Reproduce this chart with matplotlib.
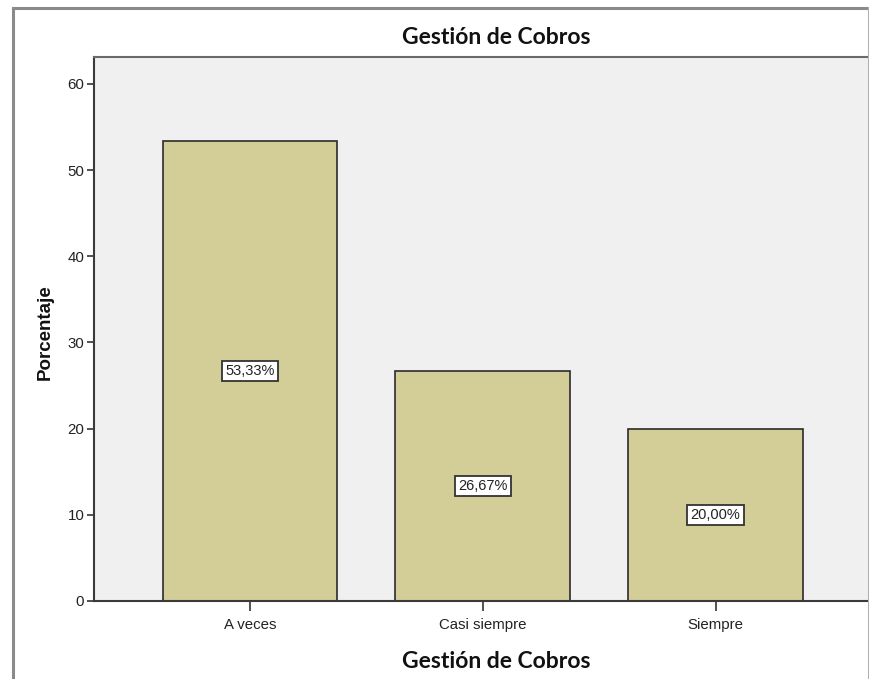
import matplotlib
matplotlib.use("Agg")
import matplotlib.pyplot as plt

categories = ["A veces", "Casi siempre", "Siempre"]
values = [53.33, 26.67, 20.00]
labels = ["53,33%", "26,67%", "20,00%"]
yticks = [0, 10, 20, 30, 40, 50, 60]

fig = plt.figure(figsize=(8.70, 6.79), dpi=100)
fig.patch.set_facecolor("white")

# figure frame (left, top, right)
fig.add_artist(plt.Line2D([13/870, 13/870], [0, 1-8/679], color="#8a8a8a", lw=2.2, transform=fig.transFigure))
fig.add_artist(plt.Line2D([13/870, 869/870], [1-8/679, 1-8/679], color="#8a8a8a", lw=2.2, transform=fig.transFigure))
fig.add_artist(plt.Line2D([869/870, 869/870], [0, 1-8/679], color="#b0b0b0", lw=1.5, transform=fig.transFigure))

ax = fig.add_axes([94/870, 1-601/679, 774/870, (601-57)/679])
ax.set_facecolor("#f0f0f0")
x = list(range(len(categories)))
ax.bar(x, values, width=0.75, color="#d3ce97", edgecolor="#2b2b2b", linewidth=1.2, zorder=2)
ax.set_xlim(-0.67, 2.655)
ax.set_ylim(0, 63.13)
ax.set_yticks(yticks)
ax.set_xticks(x)
ax.set_xticklabels(categories, fontsize=10.8, family="Liberation Sans", color="#222222")
ax.set_yticklabels([str(t) for t in yticks], fontsize=10.8, family="Liberation Sans", color="#222222")
ax.tick_params(axis="y", length=5, width=1.2, color="#333333", pad=2)
ax.tick_params(axis="x", length=7, width=1.2, color="#333333", pad=5)

for s in ["left", "bottom"]:
    ax.spines[s].set_color("#3a3a3a")
    ax.spines[s].set_linewidth(1.5)
ax.spines["top"].set_color("#6a6a6a")
ax.spines["top"].set_linewidth(1.5)
ax.spines["right"].set_visible(False)

for xi, v, lab in zip(x, values, labels):
    ax.text(xi, v / 2, lab, ha="center", va="center", fontsize=10.5, family="Liberation Sans",
            color="#222222", zorder=3,
            bbox=dict(boxstyle="square,pad=0.22", facecolor="white", edgecolor="#333333", linewidth=1.3))

fig.text(496/870, 1-38/679, "Gestión de Cobros", ha="center", va="center", fontsize=16.5,
         fontweight="bold", family="Lato", color="#111111")
fig.text(496/870, 1-661/679, "Gestión de Cobros", ha="center", va="center", fontsize=16.5,
         fontweight="bold", family="Lato", color="#111111")
fig.text(45/870, 1-332/679, "Porcentaje", ha="center", va="center", rotation=90, fontsize=13.5,
         fontweight="bold", family=["Liberation Sans", "DejaVu Sans"], color="#111111")

fig.savefig("out.png", dpi=100)
